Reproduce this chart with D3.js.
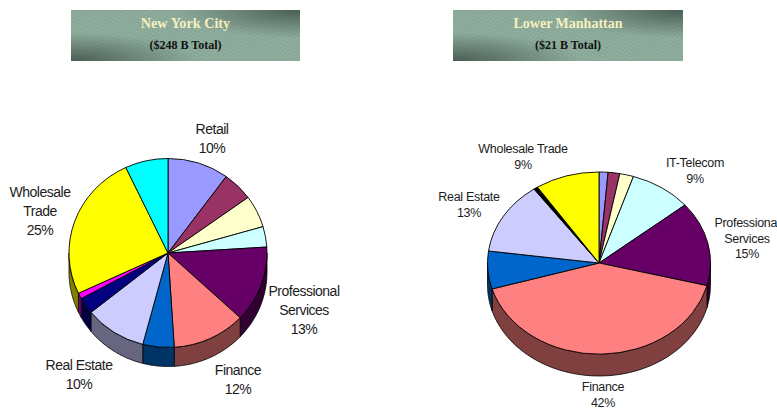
<!DOCTYPE html>
<html><head><meta charset="utf-8">
<script src="https://cdn.jsdelivr.net/npm/d3@7"></script>
<style>html,body{margin:0;padding:0;background:#fff;overflow:hidden}svg{display:block}</style>
</head><body><svg id="c" width="777" height="409"></svg>
<script>
const nycValues = [10, 5, 5.5, 3.5, 13, 12, 5.1, 10.1, 2.8, 1, 25, 7];
const nycColors = ["#9999ff","#993366","#ffffcc","#ccffff","#660066","#ff8080","#0066cc","#ccccff","#000080","#ff00ff","#ffff00","#00ffff"];
const nycSide   = ["#4d4d80","#4d1a33","#808066","#668080","#330033","#804040","#003366","#666680","#000040","#800080","#808000","#008080"];
const nycLabels = [
  {lines:["Retail","10%"], x:212, y:134},
  {lines:["Wholesale","Trade","25%"], x:40, y:197},
  {lines:["Professional","Services","13%"], x:304, y:296},
  {lines:["Finance","12%"], x:238, y:375},
  {lines:["Real Estate","10%"], x:79, y:370}
];
const lmValues = [1.3, 1.7, 2, 9, 15, 41.4, 6.7, 13, 0.6, 9.3];
const lmColors = ["#9999ff","#993366","#ffffcc","#ccffff","#660066","#ff8080","#0066cc","#ccccff","#000000","#ffff00"];
const lmSide   = ["#4d4d80","#4d1a33","#808066","#668080","#330033","#804040","#003366","#666680","#000000","#808000"];
const lmLabels = [
  {lines:["Wholesale Trade","9%"], x:523, y:153},
  {lines:["IT-Telecom","9%"], x:695, y:167},
  {lines:["Real Estate","13%"], x:469, y:201},
  {lines:["Professional","Services","15%"], x:747, y:227},
  {lines:["Finance","42%"], x:603, y:391}
];
const banners = [
  {x:71, w:229, title:"New York City", sub:"($248 B Total)", ts:14.2},
  {x:453, w:230, title:"Lower Manhattan", sub:"($21 B Total)", ts:14}
];

const svg = d3.select("#c");
const defs = svg.append("defs");
const pat = defs.append("pattern").attr("id","weave").attr("width",6).attr("height",4)
  .attr("patternUnits","userSpaceOnUse").attr("patternTransform","rotate(-12)");
pat.append("rect").attr("width",6).attr("height",4).attr("fill","#8fae9e");
pat.append("rect").attr("x",0).attr("y",0).attr("width",3).attr("height",1.4).attr("fill","#84a394");
pat.append("rect").attr("x",3).attr("y",2).attr("width",3).attr("height",1.4).attr("fill","#84a394");
const g1 = defs.append("radialGradient").attr("id","darkTR").attr("cx",1).attr("cy",0).attr("r",.55);
g1.append("stop").attr("offset",0).attr("stop-color","#2e3d35").attr("stop-opacity",.7);
g1.append("stop").attr("offset",1).attr("stop-color","#2e3d35").attr("stop-opacity",0);
const g2 = defs.append("radialGradient").attr("id","darkBL").attr("cx",0).attr("cy",1).attr("r",.55);
g2.append("stop").attr("offset",0).attr("stop-color","#2e3d35").attr("stop-opacity",.7);
g2.append("stop").attr("offset",1).attr("stop-color","#2e3d35").attr("stop-opacity",0);

banners.forEach(b => {
  const g = svg.append("g");
  ["url(#weave)","url(#darkTR)","url(#darkBL)"].forEach(f =>
    g.append("rect").attr("x",b.x).attr("y",10).attr("width",b.w).attr("height",51).attr("fill",f));
  g.append("text").attr("x",b.x+b.w/2).attr("y",28).attr("text-anchor","middle")
    .attr("font-family","Liberation Serif").attr("font-weight","bold").attr("font-size",b.ts)
    .attr("fill","#f6efbe").text(b.title);
  g.append("text").attr("x",b.x+b.w/2).attr("y",49).attr("text-anchor","middle")
    .attr("font-family","Liberation Serif").attr("font-weight","bold").attr("font-size",12)
    .attr("fill","#111").text(b.sub);
});

function drawPie(values, colors, sides, labels, o) {
  const pie = d3.pie().sort(null).value(d => d)(values);
  const g = svg.append("g");
  const pt = (a, dy=0) => [o.cx + o.rx*Math.sin(a), o.cy - o.ry*Math.cos(a) + dy];
  // side walls: only the front half (90deg..270deg) is visible
  pie.forEach((p, i) => {
    const a0 = Math.max(p.startAngle, Math.PI/2), a1 = Math.min(p.endAngle, 3*Math.PI/2);
    if (a1 <= a0) return;
    const steps = d3.range(0, 41).map(k => a0 + (a1-a0)*k/40);
    const ring = steps.map(a => pt(a)).concat(steps.slice().reverse().map(a => pt(a, o.depth)));
    g.append("path").attr("d", d3.line()(ring)+"Z").attr("fill", sides[i])
      .attr("stroke","#000").attr("stroke-width",.8).attr("stroke-linejoin","round");
  });
  // top face, drawn with d3.arc on a unit circle and squashed to an ellipse
  const arc = d3.arc().innerRadius(0).outerRadius(1);
  g.append("g").attr("transform",`translate(${o.cx},${o.cy}) scale(${o.rx},${o.ry})`)
    .selectAll("path").data(pie).join("path")
    .attr("d", arc).attr("fill",(d,i)=>colors[i])
    .attr("stroke","#000").attr("stroke-width",.9).attr("vector-effect","non-scaling-stroke")
    .attr("stroke-linejoin","round");
  labels.forEach(l => {
    const t = svg.append("text").attr("text-anchor","middle")
      .attr("font-family","Liberation Sans").attr("font-size",o.fs)
      .attr("letter-spacing",o.ls).attr("fill","#1c1c1c");
    l.lines.forEach((s,i) => t.append("tspan").attr("x",l.x).attr("y",l.y + i*o.lh).text(s));
  });
}
drawPie(nycValues, nycColors, nycSide, nycLabels, {cx:168, cy:253, rx:99, ry:94.5, depth:19, fs:14, lh:19, ls:-0.5});
drawPie(lmValues, lmColors, lmSide, lmLabels, {cx:599, cy:263, rx:111.5, ry:91, depth:22, fs:12.5, lh:15.5, ls:-0.3});
</script></body></html>
